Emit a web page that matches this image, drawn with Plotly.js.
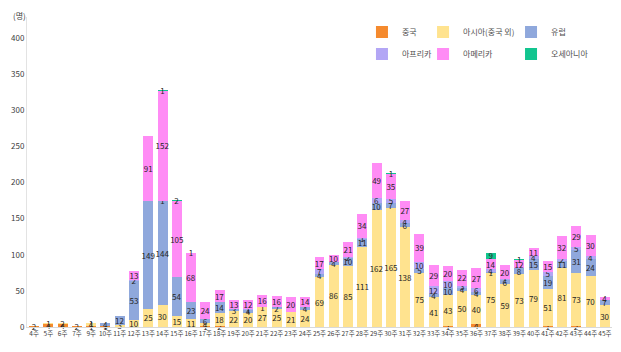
<!DOCTYPE html>
<html>
<head>
<meta charset="utf-8">
<script src="https://cdn.plot.ly/plotly-3.0.1.min.js"></script>
<style>html,body{margin:0;padding:0;background:#fff;}#chart{width:621px;height:352px;}</style>
</head>
<body>
<div id="chart"></div>
<script>
const weeks = ['4주','5주','6주','7주','9주','10주','11주','12주','13주','14주','15주','16주','17주','18주','19주','20주','21주','22주','23주','24주','25주','26주','27주','28주','29주','30주','31주','32주','33주','34주','35주','36주','37주','38주','39주','40주','41주','42주','43주','44주','45주'];
const china    = [2,4,4,2,1,1,0,0,0,0,0,0,1,2,0,0,0,0,0,0,0,0,0,0,0,0,0,0,0,1,0,4,0,0,0,0,1,0,2,0,0];
const asia     = [0,1,2,0,4,1,3,10,25,30,15,11,4,18,22,20,27,25,21,24,69,86,85,111,162,165,138,75,41,43,50,40,75,59,73,79,51,81,73,70,30];
const europe   = [0,0,0,0,1,4,12,53,149,144,54,23,6,14,3,4,1,2,0,4,4,4,10,11,10,7,6,5,4,10,4,4,1,6,8,15,19,11,31,24,7];
const africa   = [0,0,0,0,0,0,0,2,0,1,0,0,0,0,0,1,0,0,0,0,7,0,2,1,6,5,4,10,12,10,3,6,4,1,0,4,5,2,5,4,0];
const america  = [0,0,0,0,0,0,0,13,91,152,105,68,24,17,13,12,16,16,20,14,17,10,21,34,49,35,27,39,29,20,22,27,14,20,12,11,15,32,29,30,4];
const oceania  = [0,0,0,0,0,0,0,0,0,1,2,1,0,0,0,0,0,0,0,0,0,0,0,0,0,1,0,0,0,0,0,0,9,0,1,0,0,0,0,0,0];

const names  = ['중국','아시아(중국 외)','유럽','아프리카','아메리카','오세아니아'];
const series = [china, asia, europe, africa, america, oceania];
const colors = ['#F58A2E','#FFE38F','#8FA8DC','#B3A6F5','#FF8CF5','#12C58F'];
const legendIds = ['legend','legend2','legend3','legend4','legend5','legend6'];

const traces = series.map((vals, i) => ({
  type: 'bar',
  name: names[i],
  legend: legendIds[i],
  x: weeks,
  y: vals.map(v => v === 0 ? null : v),
  text: vals.map(v => v === 0 ? '' : String(v)),
  textposition: 'inside',
  insidetextanchor: 'middle',
  textangle: 0,
  textfont: {size: 8, color: '#262626', family: 'Noto Sans CJK KR'},
  marker: {color: colors[i], line: {width: 0}},
  hoverinfo: 'none',
  cliponaxis: false
}));

function legendAt(x, y) {
  return {
    orientation: 'h', xanchor: 'left', yanchor: 'middle', x: x, y: y,
    traceorder: 'normal', itemwidth: 30,
    font: {size: 8, color: '#505050'},
    bgcolor: 'rgba(0,0,0,0)', borderwidth: 0
  };
}
const colX = [0.5726, 0.677, 0.8274];
const rowY = [0.9516, 0.8806];

const layout = {
  width: 621, height: 352,
  margin: {l: 27, r: 9, t: 17, b: 25},
  barmode: 'stack',
  bargap: 0.3,
  paper_bgcolor: '#fff', plot_bgcolor: '#fff',
  font: {family: 'Noto Sans CJK KR', size: 8, color: '#404040'},
  uniformtext: {mode: 'show', minsize: 8},
  xaxis: {
    type: 'category', tickangle: 0, showgrid: false,
    showline: true, linecolor: '#d9d9d9', linewidth: 1,
    ticks: '', tickfont: {size: 6.5, color: '#404040'}
  },
  yaxis: {
    range: [0, 429], tickvals: [0,50,100,150,200,250,300,350,400],
    showgrid: false, zeroline: false,
    showline: true, linecolor: '#e3e3e3', linewidth: 1,
    ticks: '', tickfont: {size: 8, color: '#404040'}
  },
  legend:  legendAt(colX[0], rowY[0]),
  legend2: legendAt(colX[1], rowY[0]),
  legend3: legendAt(colX[2], rowY[0]),
  legend4: legendAt(colX[0], rowY[1]),
  legend5: legendAt(colX[1], rowY[1]),
  legend6: legendAt(colX[2], rowY[1]),
  showlegend: true,
  annotations: [{
    text: '(명)', xref: 'paper', yref: 'paper', x: -0.012, y: 1.006, xanchor: 'center', yanchor: 'middle',
    showarrow: false, font: {size: 8, color: '#404040'}
  }]
};

Plotly.newPlot('chart', traces, layout, {staticPlot: true, displayModeBar: false});
</script>
</body>
</html>
